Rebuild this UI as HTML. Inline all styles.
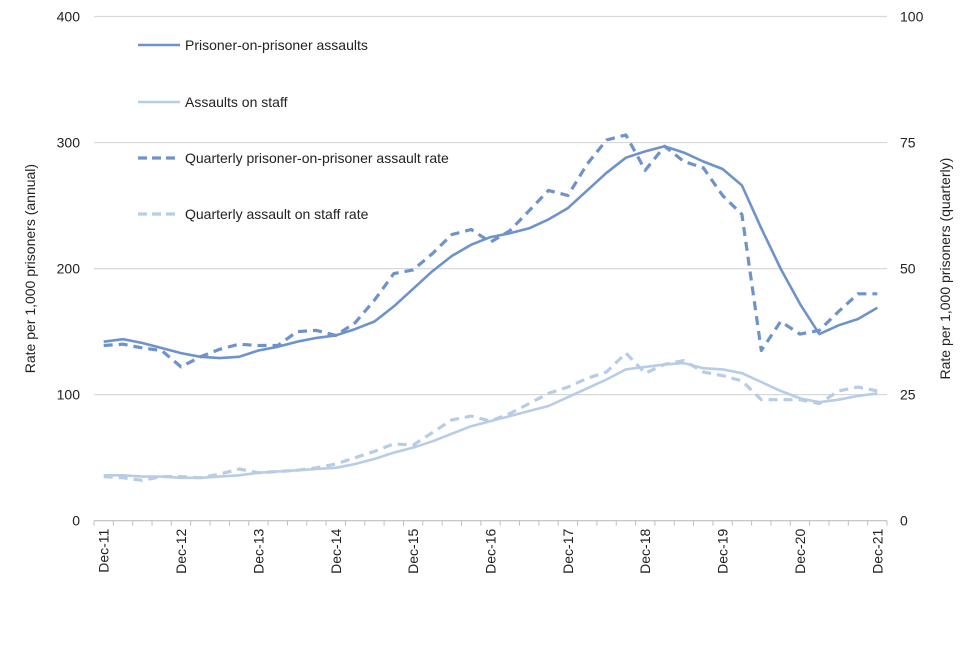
<!DOCTYPE html>
<html><head><meta charset="utf-8"><style>
body{margin:0;background:#fff;}
svg text{font-family:"Liberation Sans",Arial,sans-serif;fill:#222;}
</style></head><body>
<svg id="chart" width="960" height="640" xmlns="http://www.w3.org/2000/svg"></svg>
<script>
const periods = ["Dec-11","","","","Dec-12","","","","Dec-13","","","","Dec-14","","","","Dec-15","","","","Dec-16","","","","Dec-17","","","","Dec-18","","","","Dec-19","","","","Dec-20","","","","Dec-21"];
const ponpAnnual = [142,144,141,137,133,130,129,130,135,138,142,145,147,152,158,170,184,198,210,219,225,228,232,239,248,262,276,288,293,297,292,285,279,266,232,200,172,148,155,160,169];
const ponpQuarterly = [34.75,35,34.25,33.75,30.5,32.5,34,35,34.75,34.75,37.5,37.75,36.75,39.25,43.75,49,49.75,53,56.75,57.75,55.25,57.5,61.5,65.5,64.5,70.75,75.5,76.5,69.5,74.25,71.25,70,64.5,60.75,33.75,39.5,37,37.75,41.5,45,45];
const staffAnnual = [36,36,35,35,34,34,35,36,38,39,40,41,42,45,49,54,58,63,69,75,79,83,87,91,98,105,112,120,122,124,125,121,120,117,110,103,97,94,96,99,101];
const staffQuarterly = [8.75,8.5,8,8.75,8.75,8.5,9.25,10.25,9.5,9.75,10,10.5,11.25,12.5,13.75,15.25,15,17.5,20,20.75,19.75,21.25,23.25,25.25,26.5,28.25,29.5,33.25,29.25,31,31.75,29.5,28.75,27.75,24,24,24,23.25,25.75,26.5,25.75];
const leftTicks = [0,100,200,300,400];
const rightTicks = [0,25,50,75,100];

const NS="http://www.w3.org/2000/svg";
const svg=document.getElementById('chart');
const L=94,R=887,T=16.5,B=520.7;
const n=periods.length;
const x=i=>L+(R-L)/n*(i+0.5);
const yL=v=>B-(B-T)*v/400;
const yR=v=>B-(B-T)*v/100;
function mk(tag,attrs,parent){const e=document.createElementNS(NS,tag);for(const k in attrs)e.setAttribute(k,attrs[k]);(parent||svg).appendChild(e);return e;}

const grid=mk('g',{});


leftTicks.forEach(v=>{
  const ln=mk('line',{x1:L,x2:R,y1:yL(v),y2:yL(v),stroke:v===0?'#bfbfbf':'#d9d9d9','stroke-width':1.2},grid);
  
  
  const t=mk('text',{x:80,y:yL(v)+5,'text-anchor':'end','font-size':14});
  t.textContent=v;
  
  
});
rightTicks.forEach(v=>{
  const t=mk('text',{x:900,y:yR(v)+5,'text-anchor':'start','font-size':14});
  t.textContent=v;
  
  
});
for(let i=0;i<=n;i++){
  const xx=L+(R-L)/n*i;
  const tk=mk('line',{x1:xx,x2:xx,y1:B,y2:B+5,stroke:'#bfbfbf','stroke-width':1});
  
  
}
periods.forEach((p,i)=>{
  if(!p)return;
  const t=mk('text',{x:0,y:0,'text-anchor':'end','font-size':14,transform:`translate(${x(i)+5},${B+8}) rotate(-90)`});
  t.textContent=p;
  
  
});
function line(vals,fy,color,dash,name){
  const d=vals.map((v,i)=>(i?'L':'M')+x(i).toFixed(1)+','+fy(v).toFixed(1)).join(' ');
  const p=mk('path',{d:d,fill:'none',stroke:color,'stroke-width':dash?3.2:2.6,'stroke-dasharray':dash?'9,6':'none','stroke-linejoin':'round'});
  
  
}
const dark='#6e93cb',light='#b8cce6';
line(staffAnnual,yL,light,false,'staff-annual-line');
line(staffQuarterly,yR,light,true,'staff-quarterly-line');
line(ponpAnnual,yL,dark,false,'ponp-annual-line');
line(ponpQuarterly,yR,dark,true,'ponp-quarterly-line');

const leg=[["Prisoner-on-prisoner assaults",dark,false,45],["Assaults on staff",light,false,102],["Quarterly prisoner-on-prisoner assault rate",dark,true,158],["Quarterly assault on staff rate",light,true,214]];
leg.forEach(([lab,c,dash,yy])=>{
  const g=mk('g',{});
  
  
  mk('line',{x1:138,x2:180,y1:yy,y2:yy,stroke:c,'stroke-width':dash?3.2:2.6,'stroke-dasharray':dash?'9,5':'none'},g);
  const t=mk('text',{x:185,y:yy+5,'font-size':14},g);
  t.textContent=lab;
});
const t1=mk('text',{x:0,y:0,'text-anchor':'middle','font-size':14,transform:`translate(35,${(T+B)/2}) rotate(-90)`});
t1.textContent='Rate per 1,000 prisoners (annual)';


const t2=mk('text',{x:0,y:0,'text-anchor':'middle','font-size':14,transform:`translate(950,${(T+B)/2}) rotate(-90)`});
t2.textContent='Rate per 1,000 prisoners (quarterly)';


</script>
</body></html>
